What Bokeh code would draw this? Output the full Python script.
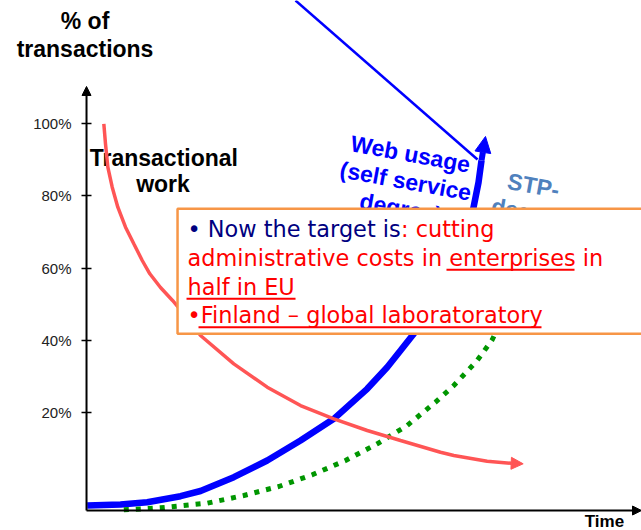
from bokeh.plotting import figure
from bokeh.models import Range1d, FixedTicker, Arrow, NormalHead
from bokeh.core.properties import value
from bokeh.embed import file_html
from bokeh.resources import INLINE

# ---- data (time in arbitrary units 0-100, share in % of transactions) ----
web_x = [0.13, 6.13, 10.94, 16.94, 20.54, 26.54, 32.56, 38.56, 44.56, 50.58, 54.18,
         56.58, 58.97, 62.88, 66.49, 68.47, 69.73, 70.63, 71.17]
web_y = [-5.73, -5.45, -4.82, -3.16, -1.72, 2.10, 6.73, 12.26, 18.27, 26.57, 32.55,
         37.18, 41.80, 51.02, 62.64, 69.84, 76.76, 83.68, 89.77]
web_tip = (71.89, 96.42)

trans_x = [3.12, 3.42, 3.84, 4.63, 5.64, 7.03, 8.52, 10.04, 11.41, 13.33, 15.50, 18.20,
           20.54, 26.54, 32.56, 38.56, 44.56, 50.58, 56.58, 63.78, 66.18, 72.19, 76.58]
trans_y = [99.93, 94.39, 87.92, 82.38, 76.84, 71.31, 66.71, 62.09, 58.41, 54.62, 51.02,
           46.04, 41.33, 33.49, 27.02, 21.95, 18.27, 15.03, 12.26, 9.02, 8.11, 6.53, 5.95]
trans_tip = (78.68, 5.81)

stp_x = [6.72, 13.33, 21.75, 28.34, 34.65, 40.67, 46.67, 52.38, 57.78, 62.88, 66.18,
         70.40, 73.10, 74.59]
stp_y = [-6.92, -6.37, -5.09, -2.96, -0.47, 2.77, 6.73, 11.35, 16.42, 22.87, 27.49,
         34.41, 40.14, 44.93]

trend_x = [37.66, 70.45]
trend_y = [134.06, 90.05]

tick_values = [20, 40, 60, 80, 100]
tick_labels = ["20%", "40%", "60%", "80%", "100%"]

box_lines = ["administrative costs in enterprises in", "half in EU",
             "\u2022Finland \u2013 global laboratoratory"]

# ---- figure ----
p = figure(width=641, height=530, output_backend="svg", toolbar_location=None,
           x_range=Range1d(-15.50, 100.0), y_range=Range1d(-12.65, 134.06),
           x_axis_location=None, min_border=0)
p.grid.visible = False
p.outline_line_color = None
p.background_fill_color = "white"
p.border_fill_color = "white"

ax = p.yaxis[0]
ax.fixed_location = 0
ax.ticker = FixedTicker(ticks=tick_values)
ax.major_label_overrides = {v: l for v, l in zip(tick_values, tick_labels)}
ax.axis_line_color = None
ax.minor_tick_line_color = None
ax.major_tick_in = 5
ax.major_tick_out = 5
ax.major_tick_line_width = 1.5
ax.major_tick_line_color = "black"
ax.major_label_standoff = 10
ax.major_label_text_font = "Liberation Sans"
ax.major_label_text_font_size = "15px"
ax.major_label_text_color = "#222222"

bold = dict(text_font=value("Liberation Sans"), text_font_style="bold",
            text_align="center", text_baseline="middle")

# titles
p.text(x=[-0.27, -0.27], y=[128.44, 120.58], text=["% of", "transactions"],
       text_font_size="23px", text_color="black", **bold)
p.text(x=[13.93, 13.78], y=[90.60, 83.40], text=["Transactional", "work"],
       text_font_size="23px", text_color="black", **bold)
p.text(x=[93.33], y=[-10.16], text=["Time"], text_font_size="17px",
       text_color="black", **bold)

# curves
p.line(web_x, web_y, line_color="#0000ff", line_width=6.5)
p.line(stp_x, stp_y, line_color="#009600", line_width=5, line_dash="5 7")
p.line(trans_x, trans_y, line_color="#ff5555", line_width=3.5)
p.line(trend_x, trend_y, line_color="#0000ff", line_width=2.5)

# rotated labels
p.text(x=[58.38, 57.51, 56.65], y=[91.57, 84.07, 76.57],
       text=["Web usage", "(self service", "degree)"], angle=-0.18,
       text_font_size="23px", text_color="#0000ff", **bold)
p.text(x=[80.54, 79.68], y=[82.85, 75.38], text=["STP-", "degree"], angle=-0.18,
       text_font_size="23px", text_color="#4f81bd", **bold)

# text box
p.quad(left=[16.40], right=[101.0], top=[76.40], bottom=[41.80],
       fill_color="white", line_color="#f79646", line_width=2.5)
plain = dict(text_font=value("DejaVu Sans"), text_font_size="22.4px",
             text_align="left", text_baseline="middle")
p.text(x=[18.20], y=[70.88], text=["\u2022 Now the target is"],
       text_color="#000080", **plain)
p.text(x=[56.67], y=[70.88], text=[": cutting"], text_color="#ff0000", **plain)
p.text(x=[18.20, 18.20, 18.20], y=[62.85, 54.82, 46.88], text=box_lines,
       text_color="#ff0000", **plain)
p.segment(x0=[64.86, 18.02, 20.18], y0=[59.52, 51.49, 43.63],
          x1=[87.93, 37.66, 81.98], y1=[59.52, 51.49, 43.63],
          line_color="#ff0000", line_width=2)

# arrow heads of curves
p.add_layout(Arrow(end=NormalHead(size=12, fill_color="#ff5555", line_color="#ff5555"),
                   x_start=trans_x[-1], y_start=trans_y[-1],
                   x_end=trans_tip[0], y_end=trans_tip[1],
                   line_color="#ff5555", line_width=3.5))
p.add_layout(Arrow(end=NormalHead(size=16, fill_color="#0000ff", line_color="#0000ff"),
                   x_start=web_x[-1], y_start=web_y[-1],
                   x_end=web_tip[0], y_end=web_tip[1],
                   line_color="#0000ff", line_width=6))

# axes arrows
p.add_layout(Arrow(end=NormalHead(size=9, fill_color="black", line_color="black"),
                   x_start=0, y_start=-7.12, x_end=0, y_end=110.26,
                   line_color="black", line_width=2))
p.add_layout(Arrow(end=NormalHead(size=9, fill_color="black", line_color="black"),
                   x_start=0, y_start=-7.12, x_end=100.0, y_end=-7.12,
                   line_color="black", line_width=2))

open("out.html", "w").write(file_html(p, INLINE))
